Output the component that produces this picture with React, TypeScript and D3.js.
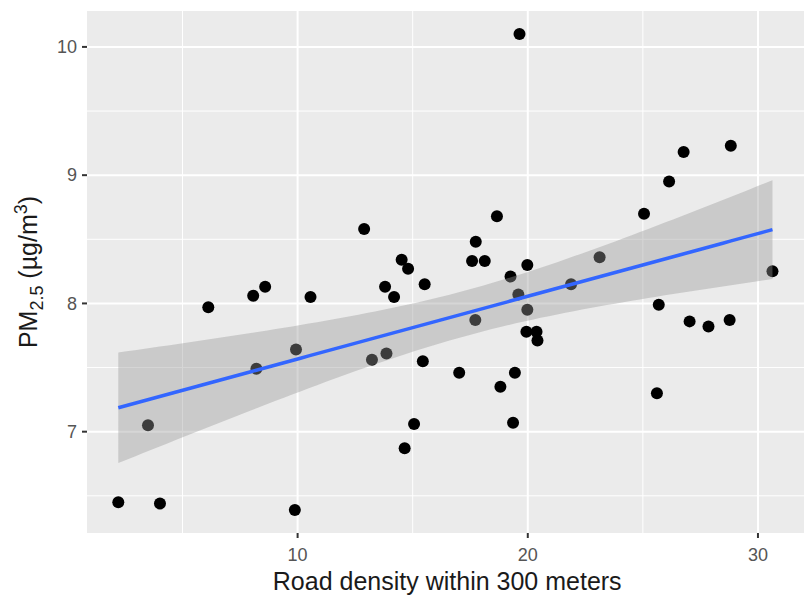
import React, { useRef, useEffect } from "react";
import * as d3 from "d3";

// road density within 300 m (x) and PM2.5 (y)
const roadDensity = [
  2.21, 4.02, 3.5, 6.12, 8.07, 8.59, 8.21, 9.93, 9.88, 10.56, 12.89, 13.23,
  13.86, 13.8, 14.19, 14.52, 14.8, 15.52, 15.44, 15.06, 14.65, 17.02, 17.74,
  17.58, 18.13, 18.66, 17.72, 18.81, 19.44, 19.36, 19.64, 19.25, 19.98, 19.59,
  19.98, 19.94, 20.38, 20.42, 21.88, 23.12, 25.05, 26.14, 26.77, 28.82, 25.69,
  25.61, 27.03, 27.85, 28.77, 30.63,
];
const pm25 = [
  6.45, 6.44, 7.05, 7.97, 8.06, 8.13, 7.49, 7.64, 6.39, 8.05, 8.58, 7.56, 7.61,
  8.13, 8.05, 8.34, 8.27, 8.15, 7.55, 7.06, 6.87, 7.46, 8.48, 8.33, 8.33, 8.68,
  7.87, 7.35, 7.46, 7.07, 10.1, 8.21, 8.3, 8.07, 7.95, 7.78, 7.78, 7.71, 8.15,
  8.36, 8.7, 8.95, 9.18, 9.23, 7.99, 7.3, 7.86, 7.82, 7.87, 8.25,
];

const xTicks = [10, 20, 30];
const xMinor = [5, 15, 25];
const yTicks = [7, 8, 9, 10];
const yMinor = [6.5, 7.5, 8.5, 9.5];

const FONT = "'Liberation Sans', Arial, Helvetica, sans-serif";

const ScatterChart = () => {
  const svgRef = useRef<SVGSVGElement>(null);

  useEffect(() => {
    const svg = d3.select(svgRef.current);
    svg.selectAll("*").remove();

    const width = 804;
    const height = 595;
    const left = 87;
    const right = 804;
    const top = 11;
    const bottom = 533;

    const x = d3.scaleLinear().domain([0.85, 32.0]).range([left, right]);
    const y = d3.scaleLinear().domain([6.21, 10.28]).range([bottom, top]);

    svg.attr("width", width).attr("height", height);
    svg.append("rect").attr("width", width).attr("height", height).attr("fill", "#fff");

    // panel
    svg
      .append("rect")
      .attr("x", left)
      .attr("y", top)
      .attr("width", right - left)
      .attr("height", bottom - top)
      .attr("fill", "#EBEBEB");

    const grid = svg.append("g");
    grid
      .selectAll("line.xminor")
      .data(xMinor)
      .join("line")
      .attr("x1", (d) => x(d))
      .attr("x2", (d) => x(d))
      .attr("y1", top)
      .attr("y2", bottom)
      .attr("stroke", "#fff")
      .attr("stroke-width", 1);
    grid
      .selectAll("line.yminor")
      .data(yMinor)
      .join("line")
      .attr("x1", left)
      .attr("x2", right)
      .attr("y1", (d) => y(d))
      .attr("y2", (d) => y(d))
      .attr("stroke", "#fff")
      .attr("stroke-width", 1);
    grid
      .selectAll("line.xmajor")
      .data(xTicks)
      .join("line")
      .attr("x1", (d) => x(d))
      .attr("x2", (d) => x(d))
      .attr("y1", top)
      .attr("y2", bottom)
      .attr("stroke", "#fff")
      .attr("stroke-width", 2);
    grid
      .selectAll("line.ymajor")
      .data(yTicks)
      .join("line")
      .attr("x1", left)
      .attr("x2", right)
      .attr("y1", (d) => y(d))
      .attr("y2", (d) => y(d))
      .attr("stroke", "#fff")
      .attr("stroke-width", 2);

    // points go under the ribbon, like ggplot layer order
    const pts = roadDensity.map((d, i) => ({ x: d, y: pm25[i] }));
    svg
      .append("g")
      .selectAll("circle")
      .data(pts)
      .join("circle")
      .attr("cx", (d) => x(d.x))
      .attr("cy", (d) => y(d.y))
      .attr("r", 6)
      .attr("fill", "#000");

    // linear fit + 95% confidence band
    const n = pts.length;
    const mx = d3.mean(roadDensity) as number;
    const my = d3.mean(pm25) as number;
    const sxx = d3.sum(roadDensity, (d) => (d - mx) ** 2);
    const sxy = d3.sum(pts, (d) => (d.x - mx) * (d.y - my));
    const slope = sxy / sxx;
    const icpt = my - slope * mx;
    const rss = d3.sum(pts, (d) => (d.y - (icpt + slope * d.x)) ** 2);
    const s = Math.sqrt(rss / (n - 2));
    const tq = 2.0106;
    const [x0, x1] = d3.extent(roadDensity) as [number, number];
    const fit = d3.range(80).map((i) => {
      const xv = x0 + ((x1 - x0) * i) / 79;
      const yv = icpt + slope * xv;
      const se = s * Math.sqrt(1 / n + (xv - mx) ** 2 / sxx);
      return { x: xv, y: yv, lo: yv - tq * se, hi: yv + tq * se };
    });

    svg
      .append("path")
      .datum(fit)
      .attr(
        "d",
        d3
          .area<any>()
          .x((d) => x(d.x))
          .y0((d) => y(d.lo))
          .y1((d) => y(d.hi))
      )
      .attr("fill", "#999999")
      .attr("fill-opacity", 0.4);

    svg
      .append("path")
      .datum(fit)
      .attr(
        "d",
        d3
          .line<any>()
          .x((d) => x(d.x))
          .y((d) => y(d.y))
      )
      .attr("fill", "none")
      .attr("stroke", "#3366FF")
      .attr("stroke-width", 3.5);

    // axes ticks and labels
    const axes = svg.append("g").attr("font-family", FONT);
    axes
      .selectAll("line.xt")
      .data(xTicks)
      .join("line")
      .attr("x1", (d) => x(d))
      .attr("x2", (d) => x(d))
      .attr("y1", bottom)
      .attr("y2", bottom + 5)
      .attr("stroke", "#333")
      .attr("stroke-width", 2);
    axes
      .selectAll("text.xl")
      .data(xTicks)
      .join("text")
      .attr("x", (d) => x(d))
      .attr("y", 561)
      .attr("text-anchor", "middle")
      .attr("font-size", 18)
      .attr("fill", "#555")
      .text((d) => d);

    const yAx = svg.append("g").attr("font-family", FONT);
    yAx
      .selectAll("line")
      .data(yTicks)
      .join("line")
      .attr("x1", left - 5)
      .attr("x2", left)
      .attr("y1", (d) => y(d))
      .attr("y2", (d) => y(d))
      .attr("stroke", "#333")
      .attr("stroke-width", 2);
    yAx
      .selectAll("text")
      .data(yTicks)
      .join("text")
      .attr("x", left - 10)
      .attr("y", (d) => y(d))
      .attr("dy", "0.35em")
      .attr("text-anchor", "end")
      .attr("font-size", 18)
      .attr("fill", "#555")
      .text((d) => d);

    // titles
    svg
      .append("text")
      .attr("x", x(16.5))
      .attr("y", 590)
      .attr("text-anchor", "middle")
      .attr("font-family", FONT)
      .attr("font-size", 25)
      .attr("fill", "#1a1a1a")
      .text("Road density within 300 meters");

    const yt = svg
      .append("text")
      .attr("transform", `translate(37, ${(top + bottom) / 2}) rotate(-90)`)
      .attr("text-anchor", "middle")
      .attr("font-family", FONT)
      .attr("font-size", 25)
      .attr("fill", "#1a1a1a");
    yt.append("tspan").text("PM");
    yt.append("tspan").attr("dy", 6).attr("font-size", 18).text("2.5");
    yt.append("tspan").attr("dy", -6).text(" (µg/m");
    yt.append("tspan").attr("dy", -10).attr("font-size", 18).text("3");
    yt.append("tspan").attr("dy", 10).text(")");
  }, []);

  return (
    <svg
      ref={svgRef}
      style={{ position: "absolute", left: 0, top: 0, display: "block" }}
    ></svg>
  );
};

export default function App() {
  return <ScatterChart />;
}
